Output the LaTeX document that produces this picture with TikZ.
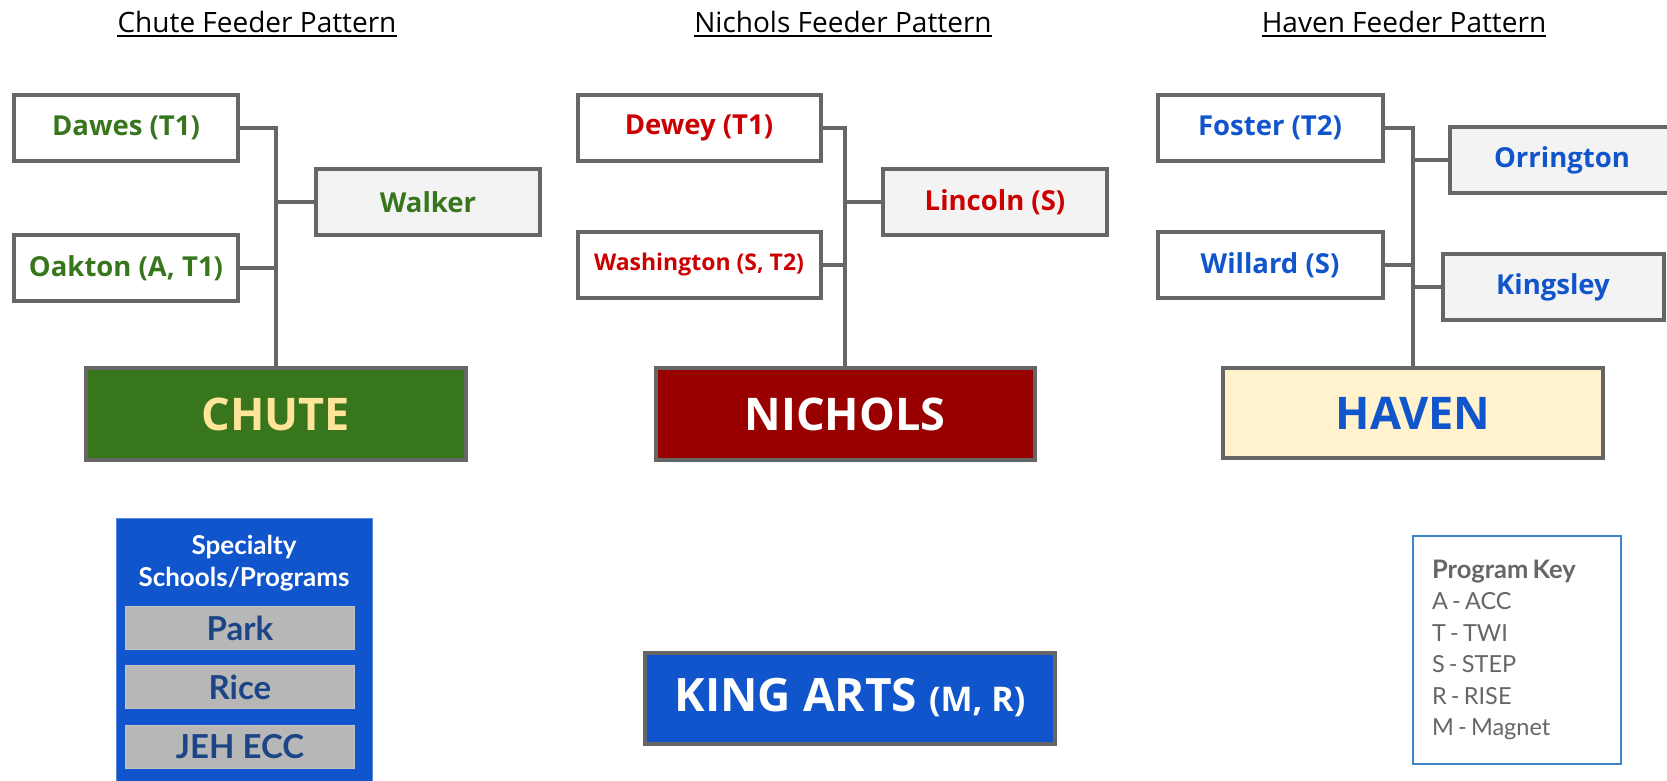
\documentclass[tikz,border=0pt]{standalone}
\usepackage{fontspec}
\setmainfont{Open Sans}
\newfontfamily\lato{Lato}
\usepackage{tikz}

\definecolor{boxgray}{HTML}{666666}
\definecolor{boxfill}{HTML}{F3F3F3}
\definecolor{chutegreen}{HTML}{38761D}
\definecolor{chuteyellow}{HTML}{FFE599}
\definecolor{nicholsred}{HTML}{990000}
\definecolor{feedred}{HTML}{CC0000}
\definecolor{havenblue}{HTML}{1155CC}
\definecolor{havencream}{HTML}{FFF2CC}
\definecolor{itemgray}{HTML}{B7B7B7}
\definecolor{itemnavy}{HTML}{1C4587}
\definecolor{keyblue}{HTML}{3D85C6}

\begin{document}
\begin{tikzpicture}[x=1pt,y=-1pt,
  school/.style={draw=boxgray,line width=4pt,fill=white,minimum width=224pt,minimum height=66pt,
    inner sep=0pt,font=\bfseries\fontsize{27.5}{30}\selectfont},
  greyschool/.style={school,fill=boxfill},
  hub/.style={school,minimum width=380pt,minimum height=92pt,font=\bfseries\fontsize{45}{50}\selectfont},
  feed/.style={draw=boxgray,line width=4pt},
  title/.style={inner sep=0pt,font=\fontsize{28}{30}\selectfont},
  item/.style={draw=itemgray!80!white,line width=1pt,fill=itemgray,text=itemnavy,minimum width=229pt,
    minimum height=43pt,inner sep=0pt,font=\lato\bfseries\fontsize{33}{36}\selectfont}]

\fill[white] (0,0) rectangle (1667,780);
\useasboundingbox (0,0) rectangle (1667,780);

\node[title,anchor=base] (chutetitle) at (257,32) {Chute Feeder Pattern};
\node[title,anchor=base] (nicholstitle) at (843,32) {Nichols Feeder Pattern};
\node[title,anchor=base] (haventitle) at (1404,32) {Haven Feeder Pattern};
\foreach \t in {chutetitle,nicholstitle,haventitle}
  \draw[line width=1.5pt] ([yshift=-4pt]\t.base west) -- ([yshift=-4pt]\t.base east);

% chute
\node[school,text=chutegreen] (dawes) at (126,128) {Dawes (T1)};
\node[school,text=chutegreen] (oakton) at (126,268) {Oakton (A, T1)};
\node[greyschool,text=chutegreen] (walker) at (428,202) {Walker};
\node[hub,fill=chutegreen,text=chuteyellow] (chute) at (276,414) {CHUTE};
\draw[feed] (chute.north) -- (chute.north |- dawes.east) -- (dawes.east);
\draw[feed] (oakton.east) -- (oakton.east -| chute.north);
\draw[feed] (walker.west) -- (walker.west -| chute.north);

% nichols
\node[school,text=feedred,minimum width=243pt] (dewey) at (699,128) {Dewey (T1)};
\node[school,text=feedred,minimum width=243pt,font=\bfseries\fontsize{23}{26}\selectfont] (washington) at (699,265) {Washington (S, T2)};
\node[greyschool,text=feedred] (lincoln) at (995,202) {Lincoln (S)};
\node[hub,fill=nicholsred,text=white,minimum width=379pt] (nichols) at (845,414) {NICHOLS};
\draw[feed] (nichols.north) -- (nichols.north |- dewey.east) -- (dewey.east);
\draw[feed] (washington.east) -- (washington.east -| nichols.north);
\draw[feed] (lincoln.west) -- (lincoln.west -| nichols.north);

% haven
\node[school,text=havenblue,minimum width=225pt] (foster) at (1270,128) {Foster (T2)};
\node[school,text=havenblue,minimum width=225pt] (willard) at (1270,265) {Willard (S)};
\node[greyschool,text=havenblue] (orrington) at (1562,160) {Orrington};
\node[greyschool,text=havenblue,minimum width=221pt] (kingsley) at (1553,287) {Kingsley};
\node[hub,fill=havencream,text=havenblue,minimum height=90pt] (haven) at (1413,413) {HAVEN};
\draw[feed] (haven.north) -- (haven.north |- foster.east) -- (foster.east);
\draw[feed] (willard.east) -- (willard.east -| haven.north);
\draw[feed] (orrington.west) -- (orrington.west -| haven.north);
\draw[feed] (kingsley.west) -- (kingsley.west -| haven.north);

% specialty
\node[draw=havenblue!70!white,line width=1pt,fill=havenblue,minimum width=256pt,minimum height=272pt] (specialty) at (244,654) {};
\node[text=white,align=center,font=\lato\bfseries\fontsize{26}{32}\selectfont] (spechead) at (244,563) {Specialty\\Schools/Programs};
\node[item] (park) at (240,628) {Park};
\node[item] (rice) at (240,687) {Rice};
\node[item] (jeh) at (240,747) {JEH ECC};

\node[hub,fill=havenblue,text=white,minimum width=410pt,minimum height=91pt,font=\bfseries\fontsize{46}{50}\selectfont] (king) at (850,698)
  {KING ARTS {\fontsize{34}{36}\selectfont(M, R)}};

\node[draw=keyblue,line width=1.5pt,text=boxgray,align=left,text width=170pt,inner xsep=19pt,
  minimum height=228pt,font=\lato\fontsize{23.5}{31.5}\selectfont] (key) at (1517,650)
  {\spaceskip=0.18em plus 0.05em\relax
   {\bfseries\fontsize{25.5}{31.5}\selectfont Program Key}\\A - ACC\\T - TWI\\S - STEP\\R - RISE\\M - Magnet};
\end{tikzpicture}
\end{document}
